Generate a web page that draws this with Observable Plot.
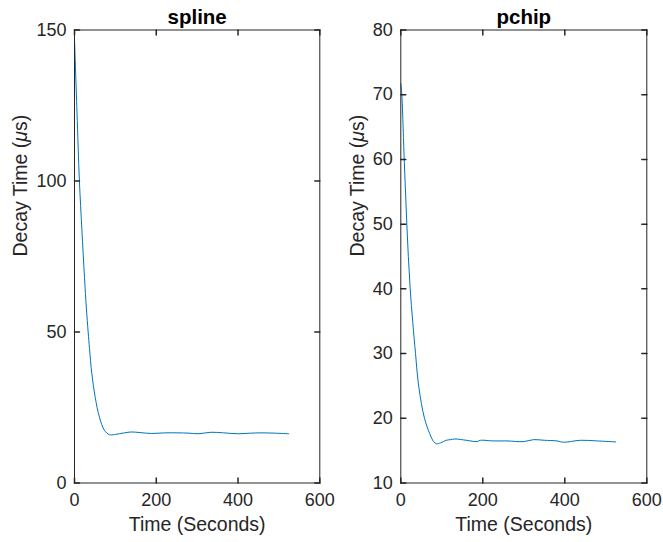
<!DOCTYPE html>
<html>
<head>
<meta charset="utf-8">
<script src="https://cdn.jsdelivr.net/npm/d3@7"></script>
<script src="https://cdn.jsdelivr.net/npm/@observablehq/plot@0.6"></script>
<style>
  html, body { margin: 0; padding: 0; background: white; }
  #wrap { position: relative; width: 663px; height: 542px; overflow: hidden; background: white; }
  #wrap svg { position: absolute; top: 0; }
</style>
</head>
<body>
<div id="wrap"></div>
<script>
// ---------- data ----------
const titles = ["spline", "pchip"];
const xLabel = "Time (Seconds)";
const yLabel = "Decay Time (μs)";
const xTicks = [0, 200, 400, 600];
const splineYTicks = [0, 50, 100, 150];
const pchipYTicks = [10, 20, 30, 40, 50, 60, 70, 80];

const splineTime = [0, 6, 12, 18, 24.5, 29, 33.4, 36.7, 42.4, 50.6, 61, 73.4, 85.6, 98, 122, 139, 160, 188, 220, 253, 280, 302, 334, 365, 399, 430, 456, 490, 524];
const splineValue = [147, 123, 100, 84, 68, 58, 50, 44.5, 36.2, 28.4, 21.8, 17.4, 16.0, 16.05, 16.6, 16.9, 16.7, 16.4, 16.6, 16.6, 16.5, 16.3, 16.8, 16.6, 16.3, 16.5, 16.6, 16.5, 16.3];

const pchipTime = [0, 2.5, 8.3, 14.7, 22.9, 35.9, 44, 57.8, 70.7, 80, 87, 97, 111, 121, 132, 160, 186, 194, 225, 259, 300, 324, 350, 381, 397, 438, 479, 524];
const pchipValue = [71.7, 70, 60, 50, 40, 30, 24.8, 20, 17.6, 16.4, 16.06, 16.2, 16.6, 16.7, 16.8, 16.6, 16.4, 16.6, 16.5, 16.5, 16.4, 16.7, 16.6, 16.5, 16.3, 16.6, 16.5, 16.35];

// ---------- styling ----------
const FONT = "'Liberation Sans', Arial, Helvetica, sans-serif";
const INK = "#262626";
const LINE = "#0072BD";

const tickShape = {draw(ctx, l) { ctx.moveTo(0, 0); ctx.lineTo(0, -l); }};

function panel({title, time, values, yDomain, yTicks, width, marginLeft, marginRight, yLabelDx}) {
  const data = time.map((t, i) => ({t, v: values[i]}));
  const tl = 5;
  return Plot.plot({
    width, height: 542,
    marginLeft, marginRight, marginTop: 29.5, marginBottom: 59.5,
    style: {fontFamily: FONT, fontSize: "18px", color: INK, background: "transparent", overflow: "visible"},
    x: {domain: [0, 600]},
    y: {domain: yDomain},
    marks: [
      Plot.line(data, {x: "t", y: "v", stroke: LINE, strokeWidth: 1, curve: "catmull-rom"}),
      Plot.frame({stroke: INK, strokeWidth: 1}),
      Plot.vector(xTicks, {x: d => d, frameAnchor: "bottom", length: tl, rotate: 0, anchor: "start", shape: tickShape, stroke: INK}),
      Plot.vector(xTicks, {x: d => d, frameAnchor: "top", length: tl, rotate: 180, anchor: "start", shape: tickShape, stroke: INK}),
      Plot.vector(yTicks, {y: d => d, frameAnchor: "left", length: tl, rotate: 90, anchor: "start", shape: tickShape, stroke: INK}),
      Plot.vector(yTicks, {y: d => d, frameAnchor: "right", length: tl, rotate: -90, anchor: "start", shape: tickShape, stroke: INK}),
      Plot.axisX(xTicks, {anchor: "bottom", tickSize: 0, tickPadding: 10, label: null, fontSize: 18, fill: INK}),
      Plot.axisY(yTicks, {anchor: "left", tickSize: 0, tickPadding: 8, label: null, fontSize: 18, fill: INK}),
      Plot.text([xLabel], {frameAnchor: "bottom", dy: 41.5, lineAnchor: "middle", fontSize: 19.5, fill: INK}),
      Plot.text([yLabel], {frameAnchor: "left", dx: yLabelDx, rotate: -90, lineAnchor: "middle", fontSize: 19.5, fill: INK, className: "ylab"}),
      Plot.text([title], {frameAnchor: "top", dy: -13, lineAnchor: "middle", fontSize: 20.5, fontWeight: "bold", fill: "black"})
    ]
  });
}

const wrap = document.getElementById("wrap");
const left = panel({title: titles[0], time: splineTime, values: splineValue, yDomain: [0, 150], yTicks: splineYTicks,
  width: 330, marginLeft: 74, marginRight: 10.7, yLabelDx: -54});
left.style.left = "0px";
const right = panel({title: titles[1], time: pchipTime, values: pchipValue, yDomain: [10, 80], yTicks: pchipYTicks,
  width: 337, marginLeft: 74.3, marginRight: 16.7, yLabelDx: -43});
right.style.left = "326px";
wrap.append(left, right);

// italic mu as in the TeX-rendered label
for (const t of wrap.querySelectorAll(".ylab text")) {
  t.innerHTML = 'Decay Time (<tspan font-style="italic">μ</tspan>s)';
}
</script>
</body>
</html>
